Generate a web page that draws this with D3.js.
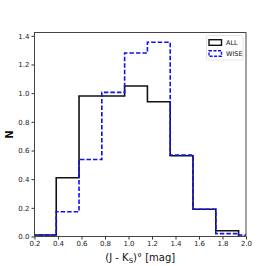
<!DOCTYPE html>
<html><head><meta charset="utf-8">
<script src="https://cdn.jsdelivr.net/npm/d3@7"></script>
<style>body{margin:0;background:#fff}svg{display:block}</style>
</head><body>
<script>
const binEdges = [0.191,0.385,0.579,0.773,0.967,1.161,1.355,1.549,1.743,1.937,2.131];
const allN  = [0.01,0.41,0.98,0.98,1.05,0.94,0.563,0.19,0.04,0.0];
const wiseN = [0.01,0.173,0.537,1.005,1.28,1.355,0.568,0.19,0.02,0.01];
const xTicks = [0.2,0.4,0.6,0.8,1.0,1.2,1.4,1.6,1.8,2.0];
const yTicks = [0.0,0.2,0.4,0.6,0.8,1.0,1.2,1.4];
const seriesNames = ["ALL","WISE"];

const W=274,H=266;
const m={l:34.5,r:28,t:32.5,b:29.5};
const svg=d3.select("body").append("svg").attr("width",W).attr("height",H);
const x=d3.scaleLinear().domain([0.2,2.0]).range([m.l,W-m.r]);
const y=d3.scaleLinear().domain([0,1.423]).range([H-m.b,m.t]);

svg.append("clipPath").attr("id","c").append("rect")
  .attr("x",m.l).attr("y",m.t).attr("width",W-m.r-m.l).attr("height",H-m.b-m.t);

function stepPts(vals){
  const p=[[binEdges[0],0]];
  vals.forEach((v,i)=>{p.push([binEdges[i],v]);p.push([binEdges[i+1],v]);});
  p.push([binEdges[vals.length],0]);
  return p;
}
const line=d3.line().x(d=>x(d[0])).y(d=>y(d[1]));
const g=svg.append("g").attr("clip-path","url(#c)");
g.append("path").attr("d",line(stepPts(allN))).attr("fill","none")
  .attr("stroke","#111").attr("stroke-width",1.6);
g.append("path").attr("d",line(stepPts(wiseN))).attr("fill","none")
  .attr("stroke","#1010f0").attr("stroke-width",1.6).attr("stroke-dasharray","4.5,2");

const font="DejaVu Sans";
const xa=svg.append("g").attr("transform",`translate(0,${H-m.b})`)
  .call(d3.axisBottom(x).tickValues(xTicks).tickFormat(d3.format(".1f")).tickSize(3).tickPadding(2));
const ya=svg.append("g").attr("transform",`translate(${m.l},0)`)
  .call(d3.axisLeft(y).tickValues(yTicks).tickFormat(d3.format(".1f")).tickSize(3).tickPadding(2));
[xa,ya].forEach(a=>{a.select(".domain").remove();
  a.selectAll("text").attr("font-family",font).attr("font-size",7).attr("fill","#222");
  a.selectAll("line").attr("stroke","#333");});

svg.append("rect").attr("x",m.l).attr("y",m.t).attr("width",W-m.r-m.l).attr("height",H-m.b-m.t)
  .attr("fill","none").attr("stroke","#444").attr("stroke-width",1);

svg.append("text").attr("x",(m.l+W-m.r)/2).attr("y",261).attr("text-anchor","middle")
  .attr("font-family",font).attr("font-size",10).attr("fill","#111")
  .html('(J - K<tspan font-size="7" dy="2">S</tspan><tspan dy="-2">)° [mag]</tspan>');
svg.append("text").attr("transform",`translate(13,${(m.t+H-m.b)/2}) rotate(-90)`)
  .attr("text-anchor","middle").attr("font-family",font).attr("font-size",10)
  .attr("font-weight","bold").attr("fill","#111").text("N");

// legend
const lg=svg.append("g");
lg.append("rect").attr("x",206.5).attr("y",35.5).attr("width",36.5).attr("height",24.5)
  .attr("rx",1.5).attr("fill","#fff").attr("stroke","#ddd").attr("stroke-width",0.8);
const styles=[{s:"#111",d:null},{s:"#1010f0",d:"3,1.5"}];
seriesNames.forEach((n,i)=>{
  const yy=42.5+i*11;
  lg.append("rect").attr("x",209).attr("y",yy-2.8).attr("width",12.5).attr("height",5.6)
    .attr("fill","none").attr("stroke",styles[i].s).attr("stroke-width",1.4)
    .attr("stroke-dasharray",styles[i].d);
  lg.append("text").attr("x",226).attr("y",yy+2.3).attr("font-family",font).attr("font-size",6.5)
    .attr("fill","#111").text(n);
});
</script>
</body></html>
